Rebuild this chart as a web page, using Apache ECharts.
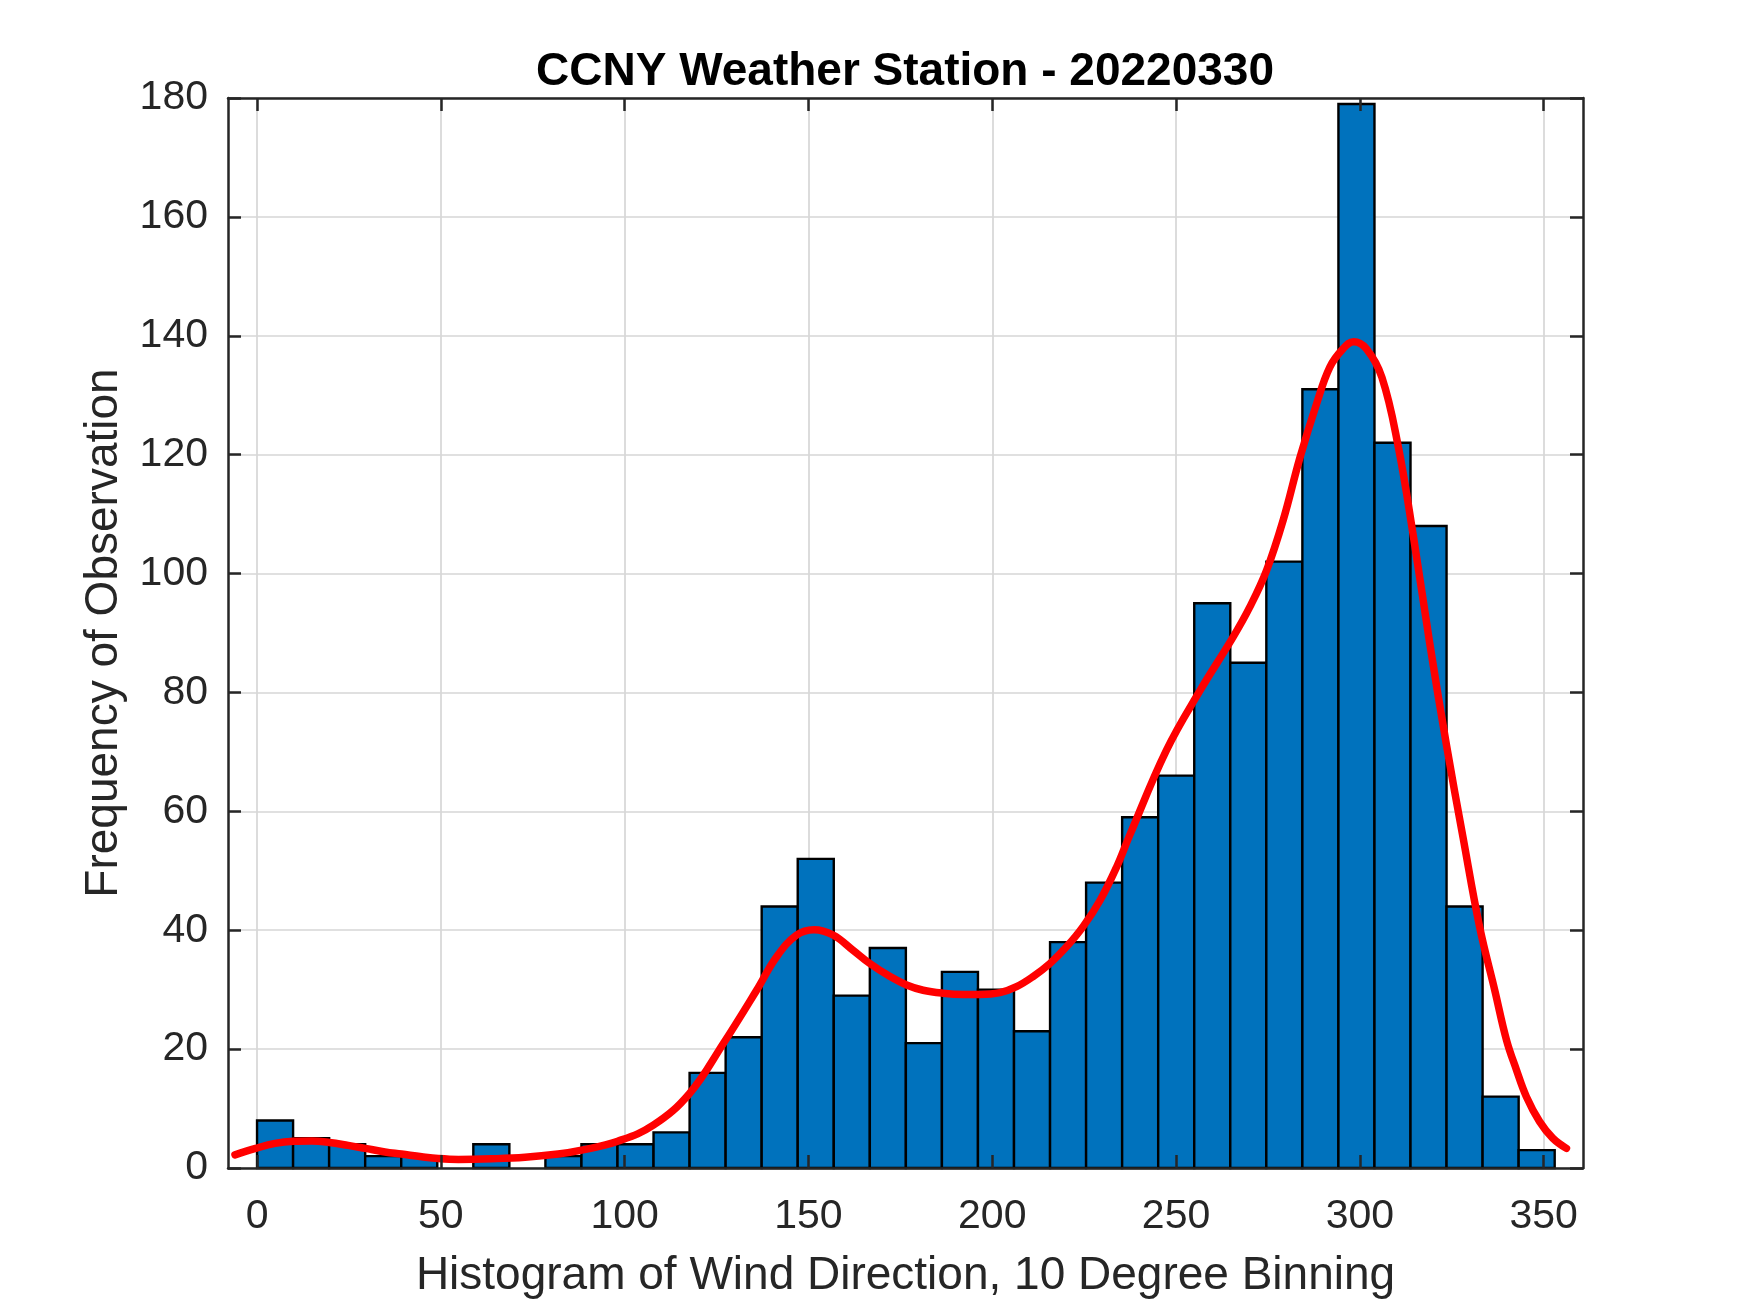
<!DOCTYPE html>
<html>
<head>
<meta charset="utf-8">
<script src="https://cdn.jsdelivr.net/npm/echarts@6/dist/echarts.min.js"></script>
<style>
  html, body { margin: 0; padding: 0; background: #ffffff; }
  #chart { width: 1750px; height: 1313px; }
</style>
</head>
<body>
<div id="chart"></div>
<script>
// ---- data ----
const titleText = 'CCNY Weather Station - 20220330';
const xLabelText = 'Histogram of Wind Direction, 10 Degree Binning';
const yLabelText = 'Frequency of Observation';

const binCounts = [8, 5, 4, 2, 2, 0, 4, 0, 2, 4, 4, 6, 16, 22, 44, 52, 29, 37, 21, 33,
                   30, 23, 38, 48, 59, 66, 95, 85, 102, 131, 179, 122, 108, 44, 12, 3];
const binLow = 0;
const binHigh = 353;

const curveX = [-6.0, -0.4, 4.9, 9.9, 14.9, 19.7, 24.8, 29.4, 34.8, 39.3, 44.8, 49.3, 54.8,
                63.8, 72.9, 81.9, 88.3, 98.1, 107.8, 117.6, 126.8, 135.9, 141.3, 146.8,
                151.5, 156.7, 162.2, 166.7, 172.2, 176.7, 181.2, 186.6, 192.1, 196.6,
                202.1, 206.6, 211.1, 215.7, 220.2, 224.7, 229.3, 233.8, 237.4, 247.4,
                256.5, 265.5, 270.0, 274.6, 279.1, 283.7, 288.2, 291.8, 295.4, 298.3,
                301.8, 306.0, 310.4, 314.5, 319.0, 323.6, 328.1, 332.6, 336.7, 339.9,
                342.6, 345.3, 348.9, 352.5, 356.2];
const curveY = [2.2, 3.3, 4.15, 4.5, 4.55, 4.3, 3.8, 3.3, 2.7, 2.35, 1.9, 1.6, 1.45,
                1.55, 1.8, 2.35, 3.0, 4.5, 7.2, 12.5, 20.9, 29.9, 35.5, 39.2,
                40.1, 39.2, 36.6, 34.4, 32.2, 30.8, 29.9, 29.4, 29.2, 29.2,
                29.5, 30.5, 32.2, 34.4, 37.2, 40.6, 45.0, 50.6, 56.0, 70.3,
                80.3, 89.3, 94.3, 100.5, 108.9, 119.5, 128.5, 134.7, 137.8, 139.0,
                137.8, 133.0, 121.5, 106.5, 88.3, 71.0, 55.5, 40.5, 29.9, 21.5,
                16.5, 12.0, 7.8, 5.0, 3.3];

const xTicks = [0, 50, 100, 150, 200, 250, 300, 350];
const xMin = -7.9, xMax = 360.7;
const yMin = 0, yMax = 180, yStep = 20;

// ---- build ----
const binWidth = (binHigh - binLow) / binCounts.length;
const barData = binCounts.map((c, i) => [binLow + i * binWidth, binLow + (i + 1) * binWidth, c]);
const lineData = curveX.map((x, i) => [x, curveY[i]]);

const FONT = '"Liberation Sans", Arial, Helvetica, sans-serif';
const AX = '#262626';
const GRIDC = '#d6d6d6';
const gridPos = { left: 228, right: 167, top: 98, bottom: 145 };

const chart = echarts.init(document.getElementById('chart'), null, { renderer: 'canvas' });

chart.setOption({
  animation: false,
  backgroundColor: '#ffffff',
  textStyle: { fontFamily: FONT },
  title: {
    text: titleText,
    left: 900,
    top: 44,
    textAlign: 'center',
    textStyle: { fontFamily: FONT, fontSize: 46, fontWeight: 'bold', color: '#000000' }
  },
  grid: [
    Object.assign({ containLabel: false }, gridPos),
    Object.assign({ containLabel: false }, gridPos)
  ],
  xAxis: [
    { // grid lines (under data)
      gridIndex: 0, type: 'value', min: xMin, max: xMax, position: 'bottom',
      axisLine: { show: false },
      axisTick: { show: false, customValues: xTicks },
      axisLabel: { show: false, customValues: xTicks },
      splitLine: { show: true, lineStyle: { color: GRIDC, width: 1.7 } }
    },
    { // bottom axis with labels (over data)
      gridIndex: 1, type: 'value', min: xMin, max: xMax, position: 'bottom', z: 10,
      name: xLabelText, nameLocation: 'middle', nameGap: 85,
      nameTextStyle: { fontFamily: FONT, fontSize: 46, color: AX },
      axisLine: { show: true, onZero: false, lineStyle: { color: AX, width: 2.5 } },
      axisTick: { show: true, inside: true, length: 13, customValues: xTicks, lineStyle: { color: AX, width: 2.5 } },
      axisLabel: { show: true, customValues: xTicks, margin: 28, fontSize: 41, color: AX, fontFamily: FONT },
      splitLine: { show: false }
    },
    { // top box edge with ticks
      gridIndex: 1, type: 'value', min: xMin, max: xMax, position: 'top', z: 10,
      axisLine: { show: true, onZero: false, lineStyle: { color: AX, width: 2.5 } },
      axisTick: { show: true, inside: true, length: 13, customValues: xTicks, lineStyle: { color: AX, width: 2.5 } },
      axisLabel: { show: false, customValues: xTicks },
      splitLine: { show: false }
    }
  ],
  yAxis: [
    {
      gridIndex: 0, type: 'value', min: yMin, max: yMax, interval: yStep, position: 'left',
      axisLine: { show: false }, axisTick: { show: false }, axisLabel: { show: false },
      splitLine: { show: true, lineStyle: { color: GRIDC, width: 1.7 } }
    },
    {
      gridIndex: 1, type: 'value', min: yMin, max: yMax, interval: yStep, position: 'left', z: 10,
      name: yLabelText, nameLocation: 'middle', nameGap: 101,
      nameTextStyle: { fontFamily: FONT, fontSize: 46, color: AX },
      axisLine: { show: true, onZero: false, lineStyle: { color: AX, width: 2.5 } },
      axisTick: { show: true, inside: true, length: 13, lineStyle: { color: AX, width: 2.5 } },
      axisLabel: { show: true, margin: 20, fontSize: 41, color: AX, fontFamily: FONT },
      splitLine: { show: false }
    },
    {
      gridIndex: 1, type: 'value', min: yMin, max: yMax, interval: yStep, position: 'right', z: 10,
      axisLine: { show: true, onZero: false, lineStyle: { color: AX, width: 2.5 } },
      axisTick: { show: true, inside: true, length: 13, lineStyle: { color: AX, width: 2.5 } },
      axisLabel: { show: false },
      splitLine: { show: false }
    }
  ],
  series: [
    {
      type: 'custom',
      xAxisIndex: 0, yAxisIndex: 0,
      data: barData,
      encode: { x: [0, 1], y: 2 },
      renderItem: function (params, api) {
        const c = api.value(2);
        if (!c) return null;
        const p0 = api.coord([api.value(0), c]);
        const p1 = api.coord([api.value(1), 0]);
        return {
          type: 'rect',
          shape: { x: p0[0], y: p0[1], width: p1[0] - p0[0], height: p1[1] - p0[1] },
          style: { fill: '#0072BD', stroke: '#000000', lineWidth: 2.4 }
        };
      },
      z: 2
    },
    {
      type: 'line',
      xAxisIndex: 0, yAxisIndex: 0,
      data: lineData,
      smooth: 0.4,
      showSymbol: false,
      symbol: 'none',
      lineStyle: { color: '#ff0000', width: 7.5, cap: 'round', join: 'round' },
      z: 3
    }
  ]
});
</script>
</body>
</html>
